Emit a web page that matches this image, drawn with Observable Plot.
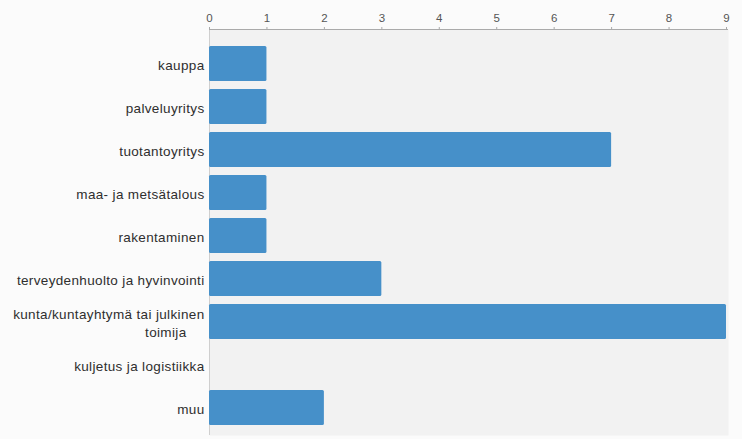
<!DOCTYPE html>
<html>
<head>
<meta charset="utf-8">
<script src="https://cdn.jsdelivr.net/npm/d3@7"></script>
<script src="https://cdn.jsdelivr.net/npm/@observablehq/plot@0.6"></script>
<style>
  html, body { margin: 0; padding: 0; background: #fbfbfb; }
</style>
</head>
<body>
<div id="chart"></div>
<script>
const categories = [
  "kauppa",
  "palveluyritys",
  "tuotantoyritys",
  "maa- ja metsätalous",
  "rakentaminen",
  "terveydenhuolto ja hyvinvointi",
  "kunta/kuntayhtymä tai julkinen\ntoimija",
  "kuljetus ja logistiikka",
  "muu"
];
const values = [1, 1, 7, 1, 1, 3, 9, 0, 2];
const xTicks = [0, 1, 2, 3, 4, 5, 6, 7, 8, 9];

const data = categories.map((c, i) => ({category: c, value: values[i]}));

const chart = Plot.plot({
  width: 742,
  height: 439,
  marginLeft: 209,
  marginRight: 14,
  marginTop: 29,
  marginBottom: 4,
  style: {background: "#fbfbfb", fontFamily: "Liberation Sans, Arial, sans-serif"},
  x: {domain: [0, 9], range: [209, 726], label: null},
  y: {domain: categories, range: [29, 443], paddingInner: 0.18, paddingOuter: 0.32, label: null},
  marks: [
    Plot.frame({fill: "#f2f2f2", stroke: null}),
    Plot.ruleX([0], {stroke: "#cfcfcf"}),
    Plot.barX(data, {x: "value", y: "category", fill: "#4690c9", rx: 1.5}),
    Plot.axisX({anchor: "top", ticks: xTicks, tickSize: 3, tickPadding: 5, fontSize: 11.5, color: "#555", stroke: "#aaa", label: null, tickFormat: d => String(d)}),
    Plot.axisY({anchor: "left", tickSize: 0, tickPadding: 5, fontSize: 13.5, lineHeight: 1.35, color: "#2e2e2e", label: null})
  ]
});

const xs = chart.scale("x");
d3.select(chart).append("line")
  .attr("x1", xs.apply(0))
  .attr("x2", xs.apply(9) + 2)
  .attr("y1", 29.5)
  .attr("y2", 29.5)
  .attr("stroke", "#aaa");

// y labels are drawn a little wider in the reference
d3.select(chart).selectAll("[aria-label='y-axis tick label'] text").style("letter-spacing", "0.35px");

// second line of the wrapped label sits a little left
d3.select(chart).selectAll("text tspan").each(function() {
  if (this.textContent === "toimija") d3.select(this).attr("dx", -18);
});

document.getElementById("chart").appendChild(chart);
</script>
</body>
</html>
